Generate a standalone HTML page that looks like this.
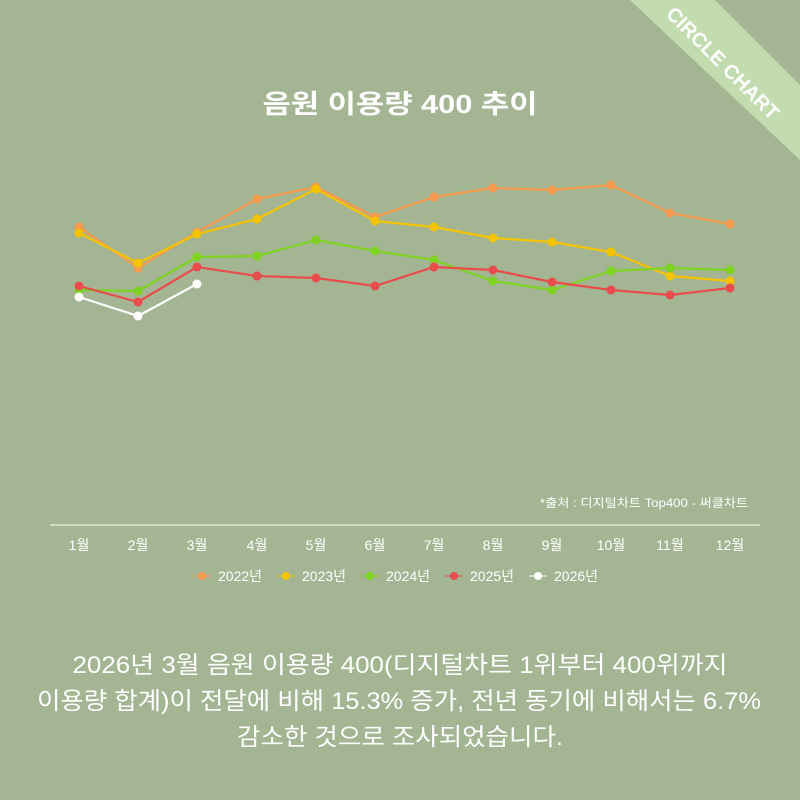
<!DOCTYPE html>
<html><head><meta charset="utf-8"><style>
html,body{margin:0;padding:0;background:#a3b592;}
svg{display:block;}
text{font-family:"Liberation Sans","Noto Sans CJK KR",sans-serif;fill:#fff;}
</style></head><body>
<svg width="800" height="800" viewBox="0 0 800 800" xmlns="http://www.w3.org/2000/svg">
<rect width="800" height="800" fill="#a3b592"/>
<polygon points="630,0 715,0 800,85 800,160" fill="#c2dcb0"/>
<text x="0" y="0" transform="translate(718,68) rotate(45)" font-size="20" font-weight="bold" text-anchor="middle" textLength="150" lengthAdjust="spacingAndGlyphs">CIRCLE CHART</text>
<text x="400" y="113" font-size="26" font-weight="bold" text-anchor="middle" textLength="275" lengthAdjust="spacingAndGlyphs">음원 이용량 400 추이</text>
<g fill="none" stroke-width="2.2">
<polyline stroke="#f59a4f" points="79,227 138,268 197,232 257,199 316,187 375,217 434,197 493,188 552,190 611,185 670,213 730,224"/>
<polyline stroke="#f5c400" points="79,233 138,263 197,234 257,219 316,189 375,221 434,227 493,238 552,242 611,252 670,276 730,281"/>
<polyline stroke="#7ed321" points="79,290 138,291 197,257 257,256 316,240 375,251 434,260 493,281 552,290 611,271 670,268 730,270"/>
<polyline stroke="#e84c4c" points="79,286 138,302 197,267 257,276 316,278 375,286 434,267 493,270 552,282 611,290 670,295 730,288"/>
<polyline stroke="#ffffff" points="79,297 138,316 197,284"/>
</g>
<g fill="#f59a4f"><circle cx="79" cy="227" r="4.5"/><circle cx="138" cy="268" r="4.5"/><circle cx="197" cy="232" r="4.5"/><circle cx="257" cy="199" r="4.5"/><circle cx="316" cy="187" r="4.5"/><circle cx="375" cy="217" r="4.5"/><circle cx="434" cy="197" r="4.5"/><circle cx="493" cy="188" r="4.5"/><circle cx="552" cy="190" r="4.5"/><circle cx="611" cy="185" r="4.5"/><circle cx="670" cy="213" r="4.5"/><circle cx="730" cy="224" r="4.5"/></g>
<g fill="#f5c400"><circle cx="79" cy="233" r="4.5"/><circle cx="138" cy="263" r="4.5"/><circle cx="197" cy="234" r="4.5"/><circle cx="257" cy="219" r="4.5"/><circle cx="316" cy="189" r="4.5"/><circle cx="375" cy="221" r="4.5"/><circle cx="434" cy="227" r="4.5"/><circle cx="493" cy="238" r="4.5"/><circle cx="552" cy="242" r="4.5"/><circle cx="611" cy="252" r="4.5"/><circle cx="670" cy="276" r="4.5"/><circle cx="730" cy="281" r="4.5"/></g>
<g fill="#7ed321"><circle cx="79" cy="290" r="4.5"/><circle cx="138" cy="291" r="4.5"/><circle cx="197" cy="257" r="4.5"/><circle cx="257" cy="256" r="4.5"/><circle cx="316" cy="240" r="4.5"/><circle cx="375" cy="251" r="4.5"/><circle cx="434" cy="260" r="4.5"/><circle cx="493" cy="281" r="4.5"/><circle cx="552" cy="290" r="4.5"/><circle cx="611" cy="271" r="4.5"/><circle cx="670" cy="268" r="4.5"/><circle cx="730" cy="270" r="4.5"/></g>
<g fill="#e84c4c"><circle cx="79" cy="286" r="4.5"/><circle cx="138" cy="302" r="4.5"/><circle cx="197" cy="267" r="4.5"/><circle cx="257" cy="276" r="4.5"/><circle cx="316" cy="278" r="4.5"/><circle cx="375" cy="286" r="4.5"/><circle cx="434" cy="267" r="4.5"/><circle cx="493" cy="270" r="4.5"/><circle cx="552" cy="282" r="4.5"/><circle cx="611" cy="290" r="4.5"/><circle cx="670" cy="295" r="4.5"/><circle cx="730" cy="288" r="4.5"/></g>
<g fill="#ffffff"><circle cx="79" cy="297" r="4.5"/><circle cx="138" cy="316" r="4.5"/><circle cx="197" cy="284" r="4.5"/></g>
<text x="748" y="507" font-size="12" text-anchor="end" textLength="208" lengthAdjust="spacingAndGlyphs">*출처 : 디지털차트 Top400 - 써클차트</text>
<line x1="50" y1="525" x2="760" y2="525" stroke="#fff" stroke-width="1"/>
<g font-size="14" text-anchor="middle">
<text x="79" y="550">1월</text><text x="138" y="550">2월</text><text x="197" y="550">3월</text><text x="257" y="550">4월</text><text x="316" y="550">5월</text><text x="375" y="550">6월</text><text x="434" y="550">7월</text><text x="493" y="550">8월</text><text x="552" y="550">9월</text><text x="611" y="550">10월</text><text x="670" y="550">11월</text><text x="730" y="550">12월</text>
</g>
<g font-size="14">
<line x1="193" y1="576" x2="211" y2="576" stroke="#f59a4f"/><circle cx="202" cy="576" r="4" fill="#f59a4f"/><text x="218" y="581">2022년</text>
<line x1="277" y1="576" x2="295" y2="576" stroke="#f5c400"/><circle cx="286" cy="576" r="4" fill="#f5c400"/><text x="302" y="581">2023년</text>
<line x1="361" y1="576" x2="379" y2="576" stroke="#7ed321"/><circle cx="370" cy="576" r="4" fill="#7ed321"/><text x="386" y="581">2024년</text>
<line x1="445" y1="576" x2="463" y2="576" stroke="#e84c4c"/><circle cx="454" cy="576" r="4" fill="#e84c4c"/><text x="470" y="581">2025년</text>
<line x1="529" y1="576" x2="547" y2="576" stroke="#fff"/><circle cx="538" cy="576" r="4" fill="#fff"/><text x="554" y="581">2026년</text>
</g>
<g font-size="24" text-anchor="middle">
<text x="400" y="673" textLength="655" lengthAdjust="spacingAndGlyphs">2026년 3월 음원 이용량 400(디지털차트 1위부터 400위까지</text>
<text x="399" y="709" textLength="724" lengthAdjust="spacingAndGlyphs">이용량 합계)이 전달에 비해 15.3% 증가, 전년 동기에 비해서는 6.7%</text>
<text x="400" y="745" textLength="326" lengthAdjust="spacingAndGlyphs">감소한 것으로 조사되었습니다.</text>
</g>
</svg>
</body></html>
